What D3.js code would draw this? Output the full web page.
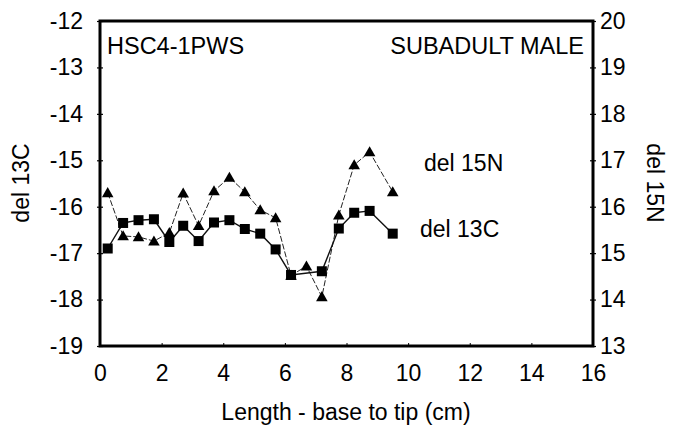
<!DOCTYPE html>
<html>
<head>
<meta charset="utf-8">
<script src="https://cdn.jsdelivr.net/npm/d3@7"></script>
<style>
  html, body { margin: 0; padding: 0; background: #fff; }
  svg { display: block; }
  text { font-family: "Liberation Sans", Arial, sans-serif; fill: #000; }
</style>
</head>
<body>
<svg id="chart" width="675" height="430"></svg>
<script>
// ---- data ----
const xN = [0.25, 0.75, 1.25, 1.75, 2.25, 2.7, 3.2, 3.7, 4.2, 4.7, 5.2, 5.7, 6.2, 6.7, 7.2, 7.75, 8.25, 8.75, 9.5];
const del15N = [16.3, 15.37, 15.35, 15.26, 15.44, 16.29, 15.59, 16.34, 16.63, 16.32, 15.93, 15.76, 14.52, 14.72, 14.06, 15.82, 16.9, 17.18, 16.32];
const xC = [0.25, 0.75, 1.25, 1.75, 2.25, 2.7, 3.2, 3.7, 4.2, 4.7, 5.2, 5.7, 6.2, 7.2, 7.75, 8.25, 8.75, 9.5];
const del13C = [-16.9, -16.35, -16.29, -16.27, -16.76, -16.41, -16.74, -16.34, -16.29, -16.48, -16.58, -16.92, -17.47, -17.39, -16.47, -16.13, -16.09, -16.58];
const xTicks = [0, 2, 4, 6, 8, 10, 12, 14, 16];
const leftTicks = [-12, -13, -14, -15, -16, -17, -18, -19];
const rightTicks = [20, 19, 18, 17, 16, 15, 14, 13];
const specimen = "HSC4-1PWS";
const group = "SUBADULT MALE";
const xTitle = "Length - base to tip (cm)";
const yLeftTitle = "del 13C";
const yRightTitle = "del 15N";
const seriesNames = ["del 15N", "del 13C"];

// ---- layout ----
const L = 100, R = 593, T = 21, B = 346;
const FONT = '"Liberation Sans", Arial, sans-serif';
const svg = d3.select("#chart");
const x = d3.scaleLinear().domain([0, 16]).range([L, R]);
const yC = d3.scaleLinear().domain([-19, -12]).range([B, T]);
const yN = d3.scaleLinear().domain([13, 20]).range([B, T]);
const fmt = d => String(d); // plain hyphen minus, as in the reference

// axes
const axL = svg.append("g").attr("transform", `translate(${L},0)`)
  .call(d3.axisLeft(yC).tickValues(leftTicks).tickSize(0).tickPadding(17).tickFormat(fmt));
const axR = svg.append("g").attr("transform", `translate(${R},0)`)
  .call(d3.axisRight(yN).tickValues(rightTicks).tickSize(0).tickPadding(7).tickFormat(fmt));
const axB = svg.append("g").attr("transform", `translate(0,${B})`)
  .call(d3.axisBottom(x).tickValues(xTicks).tickSize(0).tickPadding(19).tickFormat(fmt));

[axL, axR, axB].forEach(a => {
  a.select(".domain").remove();
  a.selectAll("text").style("font-size", "23px").style("font-family", FONT);
});
axL.selectAll(".tick line").attr("x1", -3).attr("x2", 3).attr("stroke", "#000").attr("stroke-width", 1.2);
axR.selectAll(".tick line").attr("x1", -3).attr("x2", 3).attr("stroke", "#000").attr("stroke-width", 1.2);
axB.selectAll(".tick line").attr("y1", -3).attr("y2", 0).attr("stroke", "#000").attr("stroke-width", 1);

// frame
svg.append("rect").attr("x", L).attr("y", T).attr("width", R - L).attr("height", B - T)
  .attr("fill", "none").attr("stroke", "#000").attr("stroke-width", 3);

// lines
const dataN = xN.map((v, i) => [v, del15N[i]]);
const dataC = xC.map((v, i) => [v, del13C[i]]);
const lineN = d3.line().x(d => x(d[0])).y(d => yN(d[1]));
const lineC = d3.line().x(d => x(d[0])).y(d => yC(d[1]));

svg.append("path").datum(dataN).attr("d", lineN)
  .attr("fill", "none").attr("stroke", "#222").attr("stroke-width", 1).attr("stroke-dasharray", "6,2");
svg.append("path").datum(dataC).attr("d", lineC)
  .attr("fill", "none").attr("stroke", "#111").attr("stroke-width", 1.4);

// markers: triangles then squares
const tri = d3.symbol().type(d3.symbolTriangle).size(58);
svg.append("g").selectAll("path").data(dataN).join("path")
  .attr("d", tri)
  .attr("transform", d => `translate(${x(d[0])},${yN(d[1]) + 1})`)
  .attr("fill", "#000");
svg.append("g").selectAll("rect").data(dataC).join("rect")
  .attr("x", d => x(d[0]) - 5).attr("y", d => yC(d[1]) - 5)
  .attr("width", 10).attr("height", 10).attr("fill", "#000");

// annotations
svg.append("text").attr("x", 107).attr("y", 54).style("font-size", "23.5px").text(specimen);
svg.append("text").attr("x", 584).attr("y", 54).attr("text-anchor", "end").style("font-size", "23.5px").text(group);
svg.append("text").attr("x", 424).attr("y", 171).style("font-size", "23px").text(seriesNames[0]);
svg.append("text").attr("x", 420).attr("y", 237).style("font-size", "23px").text(seriesNames[1]);

// axis titles
svg.append("text").attr("x", 346).attr("y", 420).attr("text-anchor", "middle").style("font-size", "23px").text(xTitle);
svg.append("text").attr("transform", `translate(29,183) rotate(-90)`).attr("text-anchor", "middle").style("font-size", "23px").text(yLeftTitle);
svg.append("text").attr("transform", `translate(647,183) rotate(90)`).attr("text-anchor", "middle").style("font-size", "23px").text(yRightTitle);
</script>
</body>
</html>
